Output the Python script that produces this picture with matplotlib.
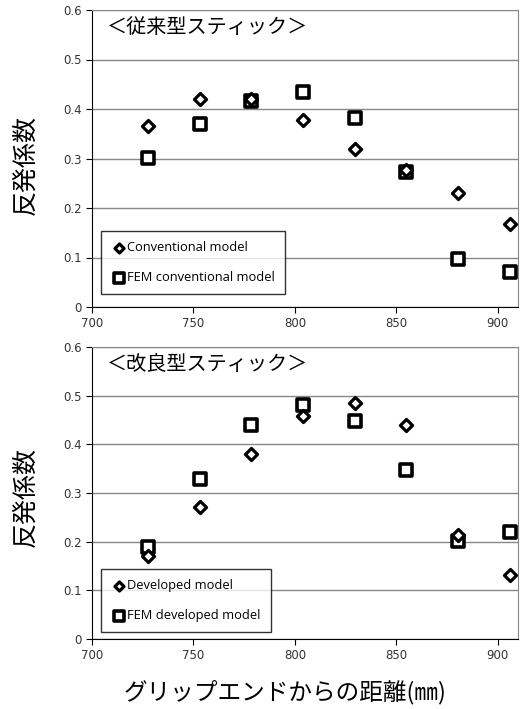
import matplotlib
matplotlib.use("Agg")
from matplotlib import pyplot as plt

plt.rcParams['font.family'] = ['Noto Sans CJK JP', 'DejaVu Sans']

distance = [727.5, 753, 778.5, 804, 829.5, 855, 880.5, 906]

conv_model = [0.365, 0.420, 0.421, 0.377, 0.320, 0.277, 0.231, 0.167]
conv_fem = [0.302, 0.370, 0.416, 0.435, 0.381, 0.272, 0.097, 0.071]

dev_model = [0.170, 0.271, 0.380, 0.458, 0.484, 0.439, 0.214, 0.132]
dev_fem = [0.190, 0.329, 0.440, 0.480, 0.448, 0.347, 0.201, 0.219]

titles = ['＜従来型スティック＞', '＜改良型スティック＞']
legend_labels = [['Conventional model', 'FEM conventional model'],
                 ['Developed model', 'FEM developed model']]
y_ticks = [0, 0.1, 0.2, 0.3, 0.4, 0.5, 0.6]
y_tick_labels = ['0', '0.1', '0.2', '0.3', '0.4', '0.5', '0.6']
x_ticks = [700, 750, 800, 850, 900]

W, H = 521, 709
fig = plt.figure(figsize=(W / 100, H / 100), dpi=100)

# pixel boxes (left, top, right, bottom)
boxes = [(92, 10, 518, 307), (92, 347, 518, 639)]
legend_boxes = [(101, 231), (101, 569)]
ylabel_y = [165, 497]
series = [(conv_model, conv_fem), (dev_model, dev_fem)]

for i, (l, t, r, b) in enumerate(boxes):
    ax = fig.add_axes([l / W, 1 - b / H, (r - l) / W, (b - t) / H])
    model, fem = series[i]
    ax.scatter(distance, fem, marker='s', s=85, facecolor='white',
               edgecolor='black', linewidth=2.6, zorder=3, label=legend_labels[i][1])
    ax.scatter(distance, model, marker='D', s=38, facecolor='white',
               edgecolor='black', linewidth=2.3, zorder=4, label=legend_labels[i][0])
    ax.set_xlim(700, 910)
    ax.set_ylim(0, 0.6)
    ax.set_yticks(y_ticks)
    ax.set_yticklabels(y_tick_labels)
    ax.set_xticks(x_ticks)
    ax.yaxis.grid(True, color='#888888', linewidth=1.0)
    ax.set_axisbelow(True)
    ax.tick_params(axis='both', direction='out', length=4, labelsize=8.5,
                   labelcolor='#333333', color='black')
    for lab in ax.get_xticklabels() + ax.get_yticklabels():
        lab.set_family('DejaVu Sans')
    for side in ['top', 'right']:
        ax.spines[side].set_color('#888888')
    for side in ['left', 'bottom']:
        ax.spines[side].set_color('black')
    ax.text(0.035, 0.975, titles[i], transform=ax.transAxes, ha='left', va='top',
            fontsize=14.5)
    fig.text(25 / W, 1 - ylabel_y[i] / H, '反発係数', rotation=90,
             ha='center', va='center', fontsize=18)
    handles, labels = ax.get_legend_handles_labels()
    lx, ly = legend_boxes[i]
    leg = ax.legend(handles[::-1], labels[::-1], loc='upper left',
                    bbox_to_anchor=(lx / W, 1 - ly / H), bbox_transform=fig.transFigure,
                    borderaxespad=0, frameon=True, fancybox=False, edgecolor='black',
                    handletextpad=0.0, handlelength=1.2, labelspacing=1.3,
                    borderpad=0.8, markerscale=0.75,
                    prop={'family': 'Open Sans', 'size': 9.3})
    leg.get_frame().set_linewidth(1.0)

fig.text(285 / W, 1 - 692 / H, 'グリップエンドからの距離(㎜)', ha='center', va='center',
         fontsize=17)

fig.savefig('out.png', dpi=100)
